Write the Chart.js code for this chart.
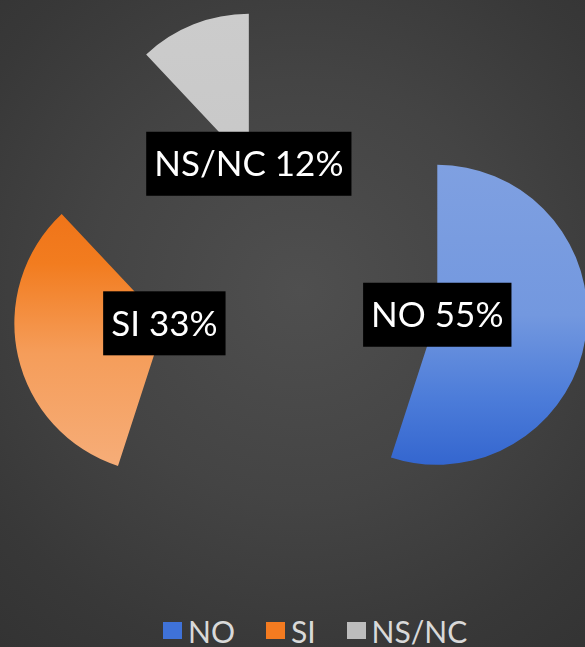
<!DOCTYPE html>
<html>
<head>
<meta charset="utf-8">
<script src="https://cdn.jsdelivr.net/npm/chart.js@4.4.1/dist/chart.umd.min.js"></script>
<style>
    html, body {
        margin: 0;
        padding: 0;
        width: 585px;
        height: 647px;
        overflow: hidden;
    }
    body {
        position: relative;
        background: radial-gradient(circle at 300px 290px, #4f4f4f 0%, #444 45%, #383838 80%, #333 100%);
        font-family: Lato, "Open Sans", sans-serif;
    }
    .chart-box {
        position: absolute;
        left: 0;
        top: 0;
        width: 600px;
        height: 586px;
    }
    .legend {
        position: absolute;
        left: 163px;
        top: 616px;
        font-size: 30px;
        line-height: 30px;
        color: #d9d9d9;
        white-space: nowrap;
    }
    .legend span.item {
        margin-right: 31px;
    }
    .legend span.swatch {
        display: inline-block;
        width: 19px;
        height: 17px;
        margin-right: 6px;
        vertical-align: 4px;
    }
</style>
</head>
<body>
<div class="chart-box"><canvas id="pie"></canvas></div>
<div class="legend" id="legend"></div>

<script>
// data
const labels = ['NO', 'SI', 'NS/NC'];
const values = [55, 33, 12];
const legendColors = ['#3f72d8', '#f47b20', '#bdbdbd'];

// gradient stops per slice (top -> bottom)
const sliceStops = [
    [[0, '#7fa0e1'], [0.5, '#7398df'], [0.78, '#4c7cd9'], [1, '#3466cf']],
    [[0, '#ee6e14'], [0.3, '#f27c1f'], [0.6, '#f59d5a'], [1, '#f6ae7a']],
    [[0, '#cccccc'], [1, '#c4c4c4']]
];

const RADIUS = 150;
const EXPLODE = 139;

const total = values.reduce((a, b) => a + b, 0);

function midAngle(index) {
    let before = 0;
    for (let i = 0; i < index; i++) before += values[i];
    const start = -Math.PI / 2 + 2 * Math.PI * before / total;
    return start + Math.PI * values[index] / total;
}

function sliceFill(context) {
    const chart = context.chart;
    const area = chart.chartArea;
    const i = context.dataIndex;
    if (!area) return legendColors[i];
    const cy = (area.top + area.bottom) / 2 + Math.sin(midAngle(i)) * EXPLODE;
    const g = chart.ctx.createLinearGradient(0, cy - RADIUS, 0, cy + RADIUS);
    sliceStops[i].forEach(([p, c]) => g.addColorStop(p, c));
    return g;
}

// push every slice out along its own middle angle, keeping its radius
const explodePlugin = {
    id: 'explode',
    afterDatasetUpdate(chart, args) {
        args.meta.data.forEach(arc => {
            const mid = (arc.startAngle + arc.endAngle) / 2;
            arc.x += Math.cos(mid) * EXPLODE;
            arc.y += Math.sin(mid) * EXPLODE;
        });
    }
};

// black boxed labels at each slice centre
const boxLabels = {
    id: 'boxLabels',
    afterDatasetsDraw(chart) {
        const ctx = chart.ctx;
        const meta = chart.getDatasetMeta(0);
        ctx.save();
        ctx.font = '35px Lato, "Open Sans", sans-serif';
        ctx.textAlign = 'center';
        ctx.textBaseline = 'alphabetic';
        meta.data.forEach((arc, i) => {
            const text = labels[i] + ' ' + Math.round(values[i] / total * 100) + '%';
            const w = ctx.measureText(text).width + 16;
            const h = 64;
            ctx.fillStyle = '#000';
            ctx.fillRect(arc.x - w / 2, arc.y - h / 2, w, h);
            ctx.fillStyle = '#fff';
            ctx.fillText(text, arc.x, arc.y + 12.5);
        });
        ctx.restore();
    }
};

new Chart(document.getElementById('pie'), {
    type: 'pie',
    data: {
        labels: labels,
        datasets: [{
            data: values,
            backgroundColor: sliceFill,
            borderWidth: 0,
            radius: RADIUS
        }]
    },
    options: {
        responsive: true,
        maintainAspectRatio: false,
        animation: false,
        events: [],
        layout: { padding: 0 },
        plugins: {
            legend: { display: false },
            tooltip: { enabled: false }
        }
    },
    plugins: [explodePlugin, boxLabels]
});

// legend built from the same arrays
const legendEl = document.getElementById('legend');
labels.forEach((label, i) => {
    const item = document.createElement('span');
    item.className = 'item';
    item.innerHTML = '<span class="swatch" style="background:' + legendColors[i] + '"></span>' + label;
    legendEl.appendChild(item);
});
</script>
</body>
</html>
